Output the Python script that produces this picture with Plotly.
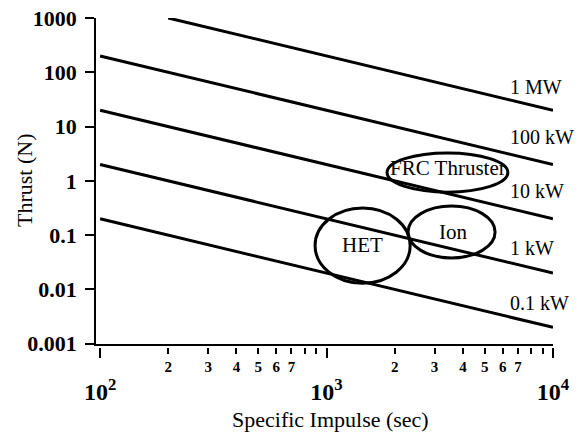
import math
import plotly.graph_objects as go

# ---- data ----
power_labels = ["1 MW", "100 kW", "10 kW", "1 kW", "0.1 kW"]
isp_start = [200, 100, 100, 100, 100]
isp_end = [10000, 10000, 10000, 10000, 10000]
thrust_start = [1000, 200, 20, 2, 0.2]
thrust_end = [20, 2, 0.2, 0.02, 0.002]
label_isp = [6300, 6300, 6300, 6300, 6300]
label_thrust = [54, 6.5, 0.65, 0.058, 0.0056]

thruster_names = ["HET", "Ion", "FRC Thruster"]
thruster_isp_min = [890, 2290, 1850]
thruster_isp_max = [2340, 5550, 6320]
thruster_thrust_min = [0.013, 0.038, 0.62]
thruster_thrust_max = [0.316, 0.344, 3.27]
thruster_text_isp = [1435, 3610, 3440]
thruster_text_thrust = [0.066, 0.114, 1.73]

y_ticks = [0.001, 0.01, 0.1, 1, 10, 100, 1000]
y_ticktext = ["0.001", "0.01", "0.1", "1", "10", "100", "1000"]
x_major = [100, 1000, 10000]
x_major_text = ["10<sup>2</sup>", "10<sup>3</sup>", "10<sup>4</sup>"]
x_minor = [200, 300, 400, 500, 600, 700, 800, 900,
           2000, 3000, 4000, 5000, 6000, 7000, 8000, 9000]
x_minor_text = ["2", "3", "4", "5", "6", "7", "", "",
                "2", "3", "4", "5", "6", "7", "", ""]

FONT = "'Liberation Serif', 'Times New Roman', Times, serif"

W, H = 582, 433
ML, MR, MT, MB = 96, 29, 18, 86
PW, PH = W - ML - MR, H - MT - MB

fig = go.Figure()
for i in range(len(power_labels)):
    fig.add_trace(go.Scatter(
        x=[isp_start[i], isp_end[i]], y=[thrust_start[i], thrust_end[i]],
        mode="lines", line=dict(color="black", width=3),
        showlegend=False, cliponaxis=False, hoverinfo="skip"))

annotations = []
for i, lab in enumerate(power_labels):
    annotations.append(dict(
        x=math.log10(label_isp[i]), y=math.log10(label_thrust[i]),
        xref="x", yref="y", text=lab, showarrow=False,
        xanchor="left", yanchor="middle",
        font=dict(family=FONT, size=20, color="black")))
for i, name in enumerate(thruster_names):
    annotations.append(dict(
        x=math.log10(thruster_text_isp[i]), y=math.log10(thruster_text_thrust[i]),
        xref="x", yref="y", text=name, showarrow=False,
        xanchor="center", yanchor="middle",
        font=dict(family=FONT, size=21, color="black")))
# axis titles
annotations.append(dict(
    x=(330 - ML) / PW, y=(H - MB - 419) / PH, xref="paper", yref="paper",
    text="Specific Impulse (sec)", showarrow=False,
    xanchor="center", yanchor="middle",
    font=dict(family=FONT, size=22, color="black")))
annotations.append(dict(
    x=(24 - ML) / PW, y=(H - MB - 181) / PH, xref="paper", yref="paper",
    text="Thrust (N)", showarrow=False, textangle=-90,
    xanchor="center", yanchor="middle",
    font=dict(family=FONT, size=22, color="black")))

shapes = []
for i in range(len(thruster_names)):
    shapes.append(dict(
        type="circle", xref="x", yref="y",
        x0=thruster_isp_min[i], x1=thruster_isp_max[i],
        y0=thruster_thrust_min[i], y1=thruster_thrust_max[i],
        line=dict(color="black", width=3)))

xrange = [1.982, 4.0]
fig.update_layout(
    width=W, height=H,
    margin=dict(l=ML, r=MR, t=MT, b=MB, autoexpand=False),
    paper_bgcolor="white", plot_bgcolor="white",
    font=dict(family=FONT, color="black"),
    showlegend=False,
    annotations=annotations,
    shapes=shapes,
    xaxis=dict(type="log", range=xrange, showline=True, linecolor="black",
               linewidth=1.5, ticks="", showticklabels=False, showgrid=False,
               zeroline=False, anchor="y", automargin=False),
    xaxis2=dict(type="log", range=xrange, overlaying="x", anchor="free",
                position=0, side="bottom", showline=False, showgrid=False,
                ticks="outside", ticklen=6, tickwidth=1.5, tickcolor="black",
                tickvals=x_minor, ticktext=x_minor_text, automargin=False,
                tickfont=dict(family=FONT, size=15, weight="bold")),
    xaxis3=dict(type="log", range=xrange, overlaying="x", anchor="free",
                position=0, side="bottom", showline=False, showgrid=False,
                ticks="outside", ticklen=10, tickwidth=1.5, tickcolor="black",
                tickvals=x_major, ticktext=x_major_text, automargin=False,
                ticklabelstandoff=13,
                tickfont=dict(family=FONT, size=24, weight="bold")),
    yaxis=dict(type="log", range=[-3.005, 3.0], domain=[3 / PH, 1],
               showline=True, linecolor="black", linewidth=1.5,
               ticks="outside", ticklen=9, tickwidth=1.5, tickcolor="black",
               tickvals=y_ticks, ticktext=y_ticktext, showgrid=False,
               zeroline=False, automargin=False, ticklabelstandoff=4,
               tickfont=dict(family=FONT, size=22, weight="bold")),
)
# invisible traces so the extra tick axes render
fig.add_trace(go.Scatter(x=[1000], y=[1], xaxis="x2", mode="markers",
                         marker=dict(opacity=0), showlegend=False, hoverinfo="skip"))
fig.add_trace(go.Scatter(x=[1000], y=[1], xaxis="x3", mode="markers",
                         marker=dict(opacity=0), showlegend=False, hoverinfo="skip"))

fig.write_html("out.html",
               config={"displayModeBar": False},
               post_script="document.body.style.margin='0';"
                           "document.body.style.overflow='hidden';")
